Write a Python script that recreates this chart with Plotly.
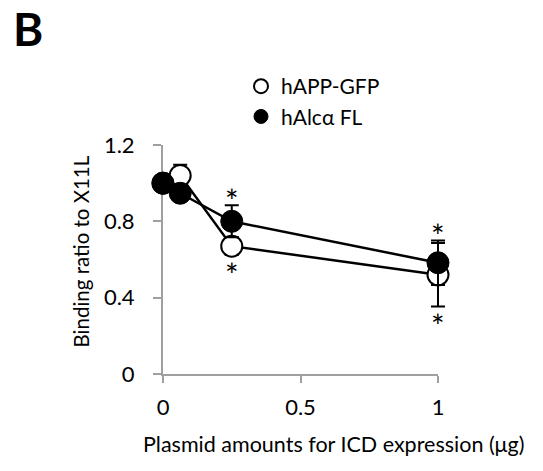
import plotly.graph_objects as go

# Data
x_vals = [0, 0.0625, 0.25, 1]
app_y = [1.0, 1.04, 0.67, 0.52]
app_err = [0.0, 0.056, 0.047, 0.166]
alc_y = [1.0, 0.947, 0.80, 0.583]
alc_err = [0.0, 0.03, 0.084, 0.116]
series_names = ["hAPP-GFP", "hAlc\u03b1 FL"]
x_ticks = [0, 0.5, 1]
x_ticklabels = ["0", "0.5", "1"]
y_ticks = [0, 0.4, 0.8, 1.2]
y_ticklabels = ["0", "0.4", "0.8", "1.2"]
# significance stars: (x index, series, side)
stars = [(2, "alc", "above"), (2, "app", "below"), (3, "alc", "above"), (3, "app", "below")]

FONT = "Lato"
GRAY = "#a0a0a0"

# plot geometry (pixels within the figure)
W, H = 543, 471
L, T = 163, 145
AX_W = 275        # width of the visible x axis
EXTRA = 24        # extra room on the right so markers/error bars at x=1 are not clipped
FULL_W = AX_W + EXTRA
AX_H = 229
BOTTOM = T + AX_H


def px(xp):
    return (xp - L) / FULL_W


def py(yp):
    return (BOTTOM - yp) / AX_H


fig = go.Figure()

# open circles (drawn first)
fig.add_trace(go.Scatter(
    x=x_vals, y=app_y, mode="lines+markers", showlegend=False, xaxis="x2", yaxis="y2",
    line=dict(color="black", width=2.5),
    marker=dict(symbol="circle", size=21, color="white", line=dict(color="black", width=2)),
    error_y=dict(type="data", array=app_err, color="black", thickness=2, width=7),
    cliponaxis=False, hoverinfo="skip",
))
fig.add_trace(go.Scatter(
    x=x_vals, y=alc_y, mode="lines+markers", showlegend=False, xaxis="x2", yaxis="y2",
    line=dict(color="black", width=2.5),
    marker=dict(symbol="circle", size=22, color="black", line=dict(color="black", width=1)),
    error_y=dict(type="data", array=alc_err, color="black", thickness=2, width=7),
    cliponaxis=False, hoverinfo="skip",
))

# legend-only traces
fig.add_trace(go.Scatter(x=[None], y=[None], mode="markers", name=series_names[0],
                         marker=dict(symbol="circle", size=14, color="white",
                                     line=dict(color="black", width=2))))
fig.add_trace(go.Scatter(x=[None], y=[None], mode="markers", name=series_names[1],
                         marker=dict(symbol="circle", size=14, color="black",
                                     line=dict(color="black", width=1))))

annotations = []
for idx, ser, side in stars:
    if ser == "alc":
        yv = alc_y[idx] + alc_err[idx]
    else:
        yv = app_y[idx] - app_err[idx]
    annotations.append(dict(
        x=x_vals[idx], y=yv, xref="x", yref="y", text="*", showarrow=False,
        font=dict(family=FONT, size=32, color="black"),
        yanchor="middle",
        yshift=5 if side == "above" else -19,
    ))

annotations.append(dict(x=px(12), y=py(0), xref="paper", yref="paper",
                        xanchor="left", yanchor="top", text="<b>B</b>", showarrow=False,
                        borderpad=0, font=dict(family=FONT, size=46, color="black")))
annotations.append(dict(x=px(333), y=py(444), xref="paper", yref="paper",
                        xanchor="center", yanchor="middle",
                        text="Plasmid amounts for ICD expression (\u03bcg)", showarrow=False,
                        font=dict(family=FONT, size=21.5, color="black")))
annotations.append(dict(x=px(80), y=py(251.5), xref="paper", yref="paper",
                        xanchor="center", yanchor="middle", textangle=-90,
                        text="Binding ratio to X11L", showarrow=False,
                        font=dict(family=FONT, size=20.5, color="black")))

fig.update_layout(
    width=W, height=H,
    margin=dict(l=L, r=W - L - FULL_W, t=T, b=H - BOTTOM),
    paper_bgcolor="white", plot_bgcolor="white",
    font=dict(family=FONT, size=20, color="black"),
    showlegend=True, hovermode=False,
    legend=dict(x=px(241), y=py(66), xanchor="left", yanchor="top",
                bgcolor="rgba(0,0,0,0)", font=dict(family=FONT, size=21, color="black"),
                tracegroupgap=0, itemwidth=30),
    annotations=annotations,
    xaxis=dict(domain=[0, AX_W / FULL_W], range=[0, 1], tickvals=x_ticks, ticktext=x_ticklabels,
               showgrid=False, zeroline=False, showline=True, linecolor=GRAY, linewidth=2,
               ticks="outside", ticklen=7, tickwidth=2, tickcolor=GRAY, ticklabelstandoff=6,
               tickfont=dict(family=FONT, size=22, color="black"), anchor="y"),
    yaxis=dict(domain=[0, 1], range=[0, 1.2], tickvals=y_ticks, ticktext=y_ticklabels,
               showgrid=True, gridcolor=GRAY, gridwidth=2, zeroline=False,
               showline=True, linecolor=GRAY, linewidth=2,
               ticks="outside", ticklen=8, tickwidth=2, tickcolor=GRAY, ticklabelstandoff=14,
               tickfont=dict(family=FONT, size=22, color="black"), anchor="x"),
    xaxis2=dict(domain=[0, 1], range=[0, FULL_W / AX_W], visible=False, showgrid=False,
                zeroline=False, anchor="y2"),
    yaxis2=dict(domain=[0, 1], range=[0, 1.2], visible=False, showgrid=False,
                zeroline=False, anchor="x2", overlaying="y"),
)

fig.write_html("out.html", config={"displayModeBar": False},
               post_script="document.body.style.margin='0px';")
